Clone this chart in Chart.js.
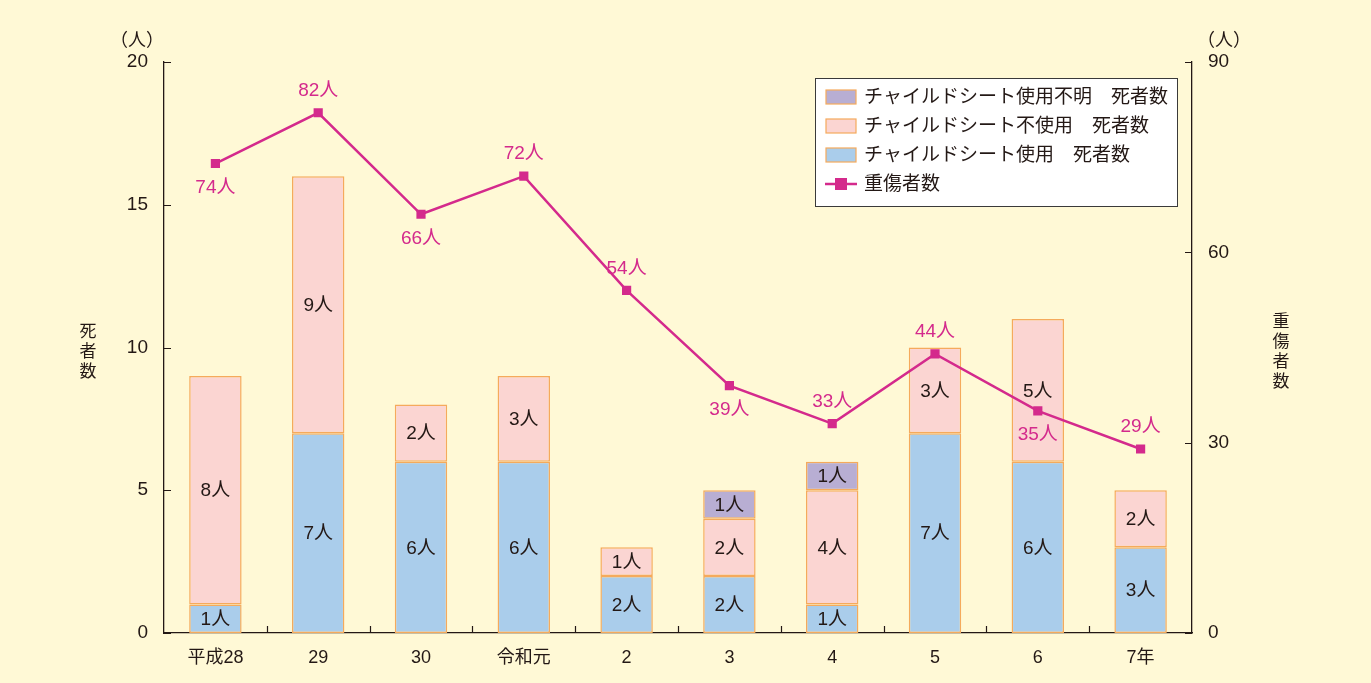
<!DOCTYPE html>
<html><head><meta charset="utf-8">
<script src="https://cdn.jsdelivr.net/npm/chart.js@4"></script>
<style>html,body{margin:0;padding:0;background:#FFF9D6;}canvas{display:block;}</style>
</head><body>
<canvas id="c" width="1371" height="683"></canvas>
<script>
const categories = ['平成28','29','30','令和元','2','3','4','5','6','7年'];
const seatUsed = [1,7,6,6,2,2,1,7,6,3];
const seatNotUsed = [8,9,2,3,1,2,4,3,5,2];
const seatUnknown = [0,0,0,0,0,1,1,0,0,0];
const injured = [74,82,66,72,54,39,33,44,35,29];
const injuredLabelBelow = [true,false,true,false,false,true,false,false,true,false];
const leftTicks = [0,5,10,15,20];
const rightTicks = [0,30,60,90];

const FONT = '"Liberation Sans", "Noto Sans CJK JP", sans-serif';
const TXT = '#231815';
const MAG = '#D42A8C';
const EDGE = '#F5AA5C';

const overlay = {
  id: 'overlay',
  afterDatasetsDraw(chart) {
    const ctx = chart.ctx;
    const x = chart.scales.x, y = chart.scales.y, y2 = chart.scales.y2;
    const area = chart.chartArea;
    ctx.save();
    // axis ticks (inward)
    ctx.strokeStyle = '#231815'; ctx.lineWidth = 1.2;
    ctx.beginPath();
    leftTicks.forEach(v => { const py = Math.round(y.getPixelForValue(v)) + 0.5; ctx.moveTo(area.left, py); ctx.lineTo(area.left + 7, py); });
    rightTicks.forEach(v => { const py = Math.round(y2.getPixelForValue(v)) + 0.5; ctx.moveTo(area.right, py); ctx.lineTo(area.right - 7, py); });
    for (let i = 1; i < categories.length; i++) {
      const px = Math.round((x.getPixelForValue(i - 1) + x.getPixelForValue(i)) / 2) + 0.5;
      ctx.moveTo(px, area.bottom); ctx.lineTo(px, area.bottom - 7);
    }
    ctx.stroke();

    // bar labels
    ctx.font = '19px ' + FONT;
    ctx.textAlign = 'center'; ctx.textBaseline = 'middle';
    ctx.fillStyle = TXT;
    [0,1,2].forEach(di => {
      const meta = chart.getDatasetMeta(di);
      const data = chart.data.datasets[di].data;
      meta.data.forEach((el, i) => {
        if (!data[i]) return;
        const cy = (el.y + el.base) / 2;
        ctx.fillText(data[i] + '人', el.x, cy + 1);
      });
    });
    // line labels
    const lm = chart.getDatasetMeta(3);
    ctx.fillStyle = MAG;
    lm.data.forEach((el, i) => {
      const off = injuredLabelBelow[i] ? 24 : -22;
      ctx.fillText(injured[i] + '人', el.x, el.y + off);
    });

    // unit labels
    ctx.fillStyle = TXT;
    ctx.font = '18px ' + FONT;
    ctx.fillText('（人）', 137, 41);
    ctx.fillText('（人）', 1224, 41);
    // vertical axis titles
    ctx.font = '17px ' + FONT;
    ['死','者','数'].forEach((ch, i) => ctx.fillText(ch, 88, 332 + i * 20));
    ['重','傷','者','数'].forEach((ch, i) => ctx.fillText(ch, 1281, 322 + i * 20));

    // legend
    const lx = 815.5, ly = 78.5, lw = 362, lh = 128;
    ctx.fillStyle = '#FFFFFF';
    ctx.fillRect(lx, ly, lw, lh);
    ctx.strokeStyle = '#3a3a3a'; ctx.lineWidth = 1;
    ctx.strokeRect(lx, ly, lw, lh);
    const items = [2,1,0];
    ctx.font = '19px ' + FONT;
    ctx.textAlign = 'left';
    items.forEach((di, k) => {
      const ds = chart.data.datasets[di];
      const cy = 97 + k * 29;
      ctx.fillStyle = ds.backgroundColor;
      ctx.fillRect(826, cy - 7, 30, 14);
      ctx.strokeStyle = EDGE; ctx.lineWidth = 1.2;
      ctx.strokeRect(826, cy - 7, 30, 14);
      ctx.fillStyle = TXT;
      ctx.fillText(ds.label, 864, cy + 1);
    });
    const cyl = 97 + 3 * 29;
    ctx.strokeStyle = MAG; ctx.lineWidth = 2.5;
    ctx.beginPath(); ctx.moveTo(825, cyl); ctx.lineTo(857, cyl); ctx.stroke();
    ctx.fillStyle = MAG; ctx.fillRect(835, cyl - 6, 12, 12);
    ctx.fillStyle = TXT;
    ctx.fillText(chart.data.datasets[3].label, 864, cyl + 1);
    ctx.restore();
  }
};

const barCommon = { borderColor: EDGE, borderWidth: 1.5, borderSkipped: false, barPercentage: 0.51, categoryPercentage: 1, yAxisID: 'y', stack: 's', order: 1 };

new Chart(document.getElementById('c'), {
  type: 'bar',
  data: {
    labels: categories,
    datasets: [
      Object.assign({ label: 'チャイルドシート使用　死者数', data: seatUsed, backgroundColor: '#AACDEB' }, barCommon),
      Object.assign({ label: 'チャイルドシート不使用　死者数', data: seatNotUsed, backgroundColor: '#FBD5D2' }, barCommon),
      Object.assign({ label: 'チャイルドシート使用不明　死者数', data: seatUnknown, backgroundColor: '#B8AED3' }, barCommon),
      { type: 'line', label: '重傷者数', data: injured, yAxisID: 'y2', borderColor: MAG, backgroundColor: MAG,
        borderWidth: 2.5, pointStyle: 'rect', pointRadius: 6.5, pointHoverRadius: 6.5, pointBorderWidth: 0, order: 0, tension: 0 }
    ]
  },
  options: {
    responsive: false, animation: false, devicePixelRatio: 1,
    layout: { padding: { top: 62, left: 0, right: 0, bottom: 0 } },
    plugins: { legend: { display: false }, tooltip: { enabled: false } },
    scales: {
      x: {
        stacked: true,
        grid: { display: false, drawTicks: false },
        border: { color: '#231815', width: 1.3 },
        ticks: { color: TXT, font: { family: FONT, size: 18 }, padding: 14, maxRotation: 0 },
        afterFit(s) { s.height = 50; }
      },
      y: {
        position: 'left', stacked: true, min: 0, max: 20,
        grid: { display: false, drawTicks: false },
        border: { color: '#231815', width: 1.3 },
        afterBuildTicks(s) { s.ticks = leftTicks.map(v => ({ value: v })); },
        ticks: { color: TXT, font: { family: FONT, size: 19 }, padding: 16 },
        afterFit(s) { s.width = 164; }
      },
      y2: {
        position: 'right', min: 0, max: 90,
        grid: { display: false, drawTicks: false },
        border: { color: '#231815', width: 1.3 },
        afterBuildTicks(s) { s.ticks = rightTicks.map(v => ({ value: v })); },
        ticks: { color: TXT, font: { family: FONT, size: 19 }, padding: 16 },
        afterFit(s) { s.width = 179; }
      }
    }
  },
  plugins: [overlay]
});
</script>
</body></html>
